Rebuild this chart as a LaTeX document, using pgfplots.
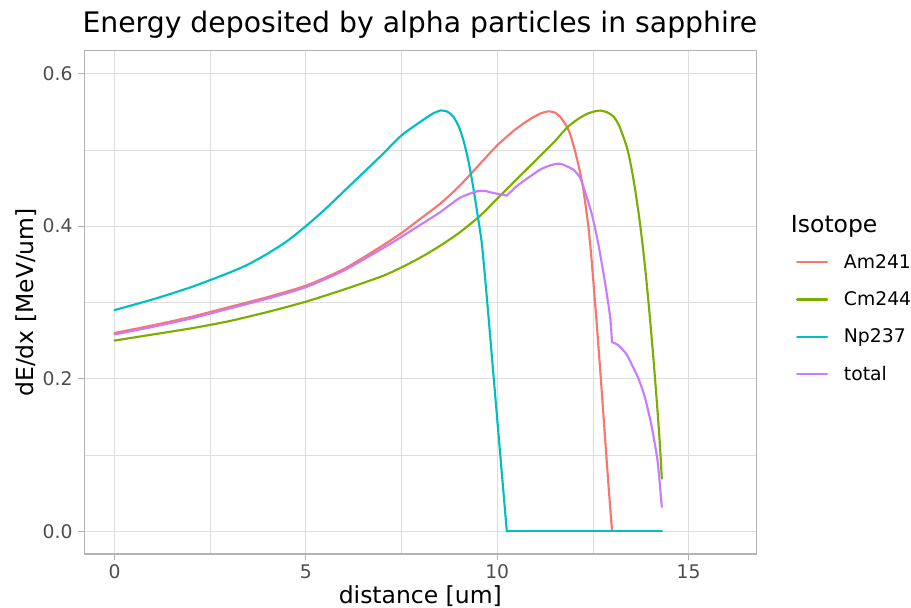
\documentclass[border=0pt]{standalone}
\usepackage{fontspec}
\setmainfont{DejaVu Sans}
\usepackage{pgfplots}
\usepackage{pgfplotstable}
\pgfplotsset{compat=1.18}

\definecolor{gridgrey}{HTML}{DEDEDE}
\definecolor{bordergrey}{HTML}{B3B3B3}
\definecolor{ticktext}{HTML}{4D4D4D}
\definecolor{amcol}{HTML}{F8766D}
\definecolor{cmcol}{HTML}{7CAE00}
\definecolor{npcol}{HTML}{00BFC4}
\definecolor{totcol}{HTML}{C77CFF}

% stopping power curves (distance in um, dE/dx in MeV/um)
\pgfplotstableread{
x y
0 0.260
1 0.270
2 0.281
3 0.294
4 0.307
5 0.322
6 0.344
6.94 0.3725
7.5 0.391
8 0.410
8.5 0.429
9 0.452
9.63 0.486
10 0.506
10.43 0.525
10.7 0.535
10.95 0.543
11.15 0.548
11.34 0.5505
11.5 0.549
11.65 0.543
11.8 0.532
11.91 0.520
12.03 0.499
12.15 0.474
12.25 0.448
12.38 0.400
12.45 0.365
12.5 0.335
12.6 0.272
12.7 0.205
12.8 0.135
12.9 0.065
13.0 0
}\amdata

\pgfplotstableread{
x y
0 0.250
1 0.258
2 0.266
3 0.2755
4 0.2875
5 0.301
6 0.317
7 0.3345
7.5 0.346
8 0.359
8.5 0.374
9 0.391
9.54 0.413
10 0.436
10.5 0.461
11 0.486
11.5 0.511
11.82 0.529
12.1 0.540
12.34 0.547
12.55 0.5505
12.7 0.5515
12.88 0.549
13.05 0.543
13.2 0.530
13.39 0.503
13.5 0.478
13.6 0.449
13.7 0.415
13.8 0.375
13.9 0.328
14.0 0.274
14.1 0.215
14.2 0.150
14.26 0.106
14.3 0.069
}\cmdata

% Np237: rising part and the zero plateau after the range end
\pgfplotstableread{
x y
0 0.290
1 0.304
2 0.320
3 0.339
3.5 0.350
4 0.364
4.5 0.380
5 0.400
5.5 0.422
6 0.446
6.5 0.470
7 0.494
7.5 0.519
8.0 0.537
8.3 0.547
8.51 0.5515
8.7 0.550
8.86 0.543
9.0 0.530
9.12 0.512
9.24 0.487
9.36 0.455
9.48 0.417
9.6 0.376
9.74 0.300
9.91 0.200
10.08 0.100
10.25 0
}\npdata
\pgfplotstableread{
x y
10.25 0
14.3 0
}\npzero

% total: three pieces, split where one isotope stops contributing
\pgfplotstableread{
x y
0 0.258
1 0.268
2 0.279
3 0.292
4 0.305
5 0.320
6 0.342
6.94 0.369
7.5 0.386
8 0.402
8.5 0.418
9.02 0.437
9.46 0.4455
9.7 0.446
9.81 0.4445
10.0 0.4425
10.25 0.440
}\totA
\pgfplotstableread{
x y
10.25 0.440
10.5 0.452
10.77 0.462
11.12 0.474
11.35 0.479
11.55 0.4817
11.7 0.481
11.99 0.474
12.16 0.464
12.25 0.452
12.47 0.416
12.64 0.377
12.82 0.325
12.95 0.281
13.0 0.248
}\totB
\pgfplotstableread{
x y
13.0 0.248
13.16 0.244
13.38 0.232
13.55 0.215
13.7 0.199
13.85 0.177
14.0 0.146
14.1 0.120
14.2 0.088
14.3 0.032
}\totC

\begin{document}
\begin{tikzpicture}
\useasboundingbox (-63.2pt,-40.35pt) rectangle (620pt,415.6pt);
\begin{axis}[
  at={(0,0)}, anchor=south west,
  scale only axis, width=504pt, height=377.6pt,
  xmin=-0.79, xmax=16.77, ymin=-0.03, ymax=0.63,
  xtick={0,5,10,15}, ytick={0,0.2,0.4,0.6},
  minor xtick={2.5,7.5,12.5}, minor ytick={0.1,0.3,0.5},
  grid=both,
  major grid style={draw=gridgrey, line width=0.85pt},
  minor grid style={draw=gridgrey, line width=0.45pt},
  axis line style={draw=bordergrey, line width=1.1pt},
  tick align=outside, major tick length=4.4pt, minor tick length=0pt,
  xtick pos=bottom, ytick pos=left,
  tick style={draw=bordergrey, line width=0.85pt},
  ticklabel style={font=\fontsize{14.08}{16}\selectfont, text=ticktext},
  /pgf/number format/assume math mode=true,
  yticklabel style={/pgf/number format/fixed, /pgf/number format/fixed zerofill, /pgf/number format/precision=1},
  xticklabel style={anchor=base, inner sep=0pt},
  yticklabel style={anchor=east, inner sep=0pt},
  xticklabel shift=0pt, yticklabel shift=0pt,
  every x tick label/.append style={yshift=-13.7pt},
  every y tick label/.append style={xshift=-4.2pt},
  legend cell align=left,
  legend style={at={(rel axis cs:1,1)}, anchor=north west,
    xshift=29.8pt, yshift=-144.75pt,
    draw=none, fill=none, inner sep=0pt, outer sep=0pt,
    column sep=0pt, row sep=0pt,
    font=\fontsize{14.08}{16}\selectfont,
    nodes={inner sep=0pt, minimum height=27.9pt}},
  legend image code/.code={
    \draw[#1] (0pt,0pt) -- (22.5pt,0pt);
    \path (34.3pt,0pt);
  },
  every axis plot/.append style={line width=1.6pt, line cap=round, line join=round},
  clip=false,
]
\addplot[amcol, smooth, tension=0.4] table[x=x,y=y] {\amdata};
\addlegendentry{Am241}
\addplot[cmcol, smooth, tension=0.4] table[x=x,y=y] {\cmdata};
\addlegendentry{Cm244}
\addplot[npcol, smooth, tension=0.4] table[x=x,y=y] {\npdata};
\addlegendentry{Np237}
\addplot[npcol, forget plot] table[x=x,y=y] {\npzero};
\addplot[totcol, smooth, tension=0.4] table[x=x,y=y] {\totA};
\addlegendentry{total}
\addplot[totcol, smooth, tension=0.4, forget plot] table[x=x,y=y] {\totB};
\addplot[totcol, smooth, tension=0.4, forget plot] table[x=x,y=y] {\totC};

% titles
\node[anchor=base west, inner sep=0pt, font=\fontsize{21.2}{25}\selectfont]
  at (rel axis cs:0,1) [xshift=-1.5pt, yshift=13.3pt] {Energy deposited by alpha particles in sapphire};
\node[anchor=base, inner sep=0pt, font=\fontsize{17.6}{21}\selectfont]
  at (rel axis cs:0.5,0) [yshift=-37pt] {distance [um]};
\node[xshift=-38.1pt, rotate=90, anchor=base, inner sep=0pt, font=\fontsize{17.6}{21}\selectfont]
  at (rel axis cs:0,0.5) {dE/dx [MeV/um]};
\node[anchor=base west, inner sep=0pt, font=\fontsize{17.6}{21}\selectfont]
  at (rel axis cs:1,1) [xshift=25.8pt, yshift=-136pt] {Isotope};
\end{axis}
\end{tikzpicture}
\end{document}
